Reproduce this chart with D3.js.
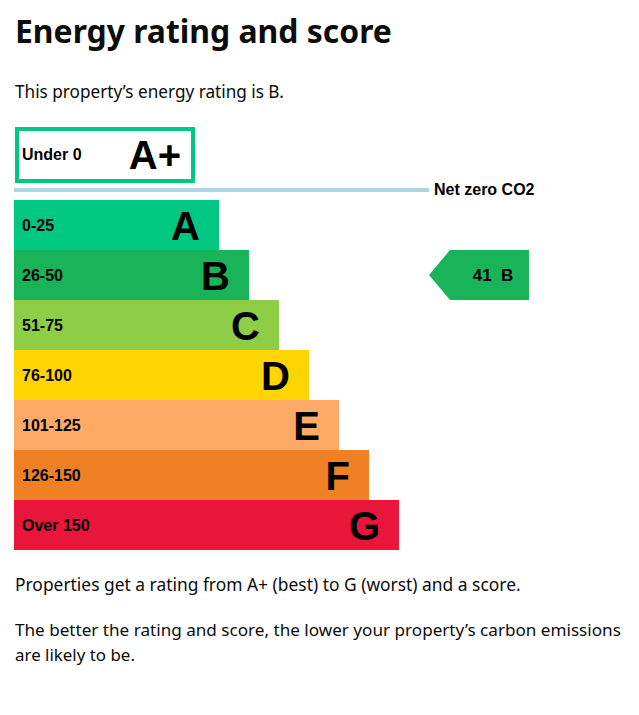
<!DOCTYPE html>
<html>
<head>
<meta charset="utf-8">
<script src="https://cdn.jsdelivr.net/npm/d3@7"></script>
<style>
  body { margin: 0; background: #fff; }
  svg { display: block; }
</style>
</head>
<body>
<div id="chart"></div>
<script>
// rating bands, best to worst
var letters = ["A", "B", "C", "D", "E", "F", "G"];
var ranges = ["0-25", "26-50", "51-75", "76-100", "101-125", "126-150", "Over 150"];
var colours = ["#00c781", "#19b459", "#8dce46", "#ffd500", "#fcaa65", "#ef8023", "#e9153b"];

// the extra band above net zero
var topLetter = "A+";
var topRange = "Under 0";
var topColour = "#00c781";

// this property
var currentScore = 41;
var currentRating = "B";

var title = "Energy rating and score";
var intro = "This property\u2019s energy rating is " + currentRating + ".";
var notes = [
  {text: "Properties get a rating from A+ (best) to G (worst) and a score.", y: 591, w: 506},
  {text: "The better the rating and score, the lower your property\u2019s carbon emissions", y: 636, w: 606},
  {text: "are likely to be.", y: 661, w: 120}
];

var W = 639, H = 715;
var bodyFont = "'Noto Sans', 'Open Sans', sans-serif";
var chartFont = "'Liberation Sans', Arial, sans-serif";

var svg = d3.select("#chart").append("svg")
  .attr("width", W)
  .attr("height", H);

// shrink the font until the text has the width it has in the picture
function fit(sel, w) {
  sel.each(function() {
    var len = this.getComputedTextLength();
    if (len > w) {
      var fs = +d3.select(this).attr("font-size");
      d3.select(this).attr("font-size", (fs * w / len).toFixed(2));
    }
  });
}

svg.append("text")
  .attr("x", 15).attr("y", 43)
  .attr("font-family", bodyFont)
  .attr("font-size", 36)
  .attr("font-weight", 700)
  .attr("fill", "#0b0c0c")
  .text(title)
  .call(fit, 377);

svg.append("text")
  .attr("x", 15).attr("y", 98)
  .attr("font-family", bodyFont)
  .attr("font-size", 19)
  .attr("fill", "#0b0c0c")
  .text(intro)
  .call(fit, 269);

svg.selectAll("text.note")
  .data(notes)
  .enter().append("text")
  .attr("class", "note")
  .attr("x", 15)
  .attr("y", function(d) { return d.y; })
  .attr("font-family", bodyFont)
  .attr("font-size", 19)
  .attr("fill", "#0b0c0c")
  .text(function(d) { return d.text; })
  .each(function(d) { fit(d3.select(this), d.w); });

// scales
var y = d3.scaleBand().domain(letters).range([200, 550]).padding(0);
var xEnd = d3.scaleLinear().domain([0, letters.length - 1]).range([219, 399]);
var x0 = 14;

var g = svg.append("g").attr("font-family", chartFont).attr("font-weight", "bold");

// A+ box
g.append("rect")
  .attr("x", 17).attr("y", 129)
  .attr("width", 176).attr("height", 52)
  .attr("fill", "#fff")
  .attr("stroke", topColour)
  .attr("stroke-width", 4);
g.append("text")
  .attr("x", 22).attr("y", 160)
  .attr("font-size", 16)
  .attr("fill", "#000")
  .text(topRange);
g.append("text")
  .attr("x", 181).attr("y", 169)
  .attr("text-anchor", "end")
  .attr("font-size", 40)
  .attr("fill", "#000")
  .text(topLetter);

// net zero line
g.append("line")
  .attr("x1", x0).attr("x2", 429)
  .attr("y1", 190).attr("y2", 190)
  .attr("stroke", "#a8d8e6")
  .attr("stroke-width", 4);
g.append("text")
  .attr("x", 434).attr("y", 195)
  .attr("font-size", 16)
  .attr("fill", "#000")
  .text("Net zero CO2");

// bands
var rows = g.selectAll("g.band")
  .data(letters)
  .enter().append("g")
  .attr("class", "band");

rows.append("rect")
  .attr("x", x0)
  .attr("y", function(d) { return y(d); })
  .attr("width", function(d, i) { return xEnd(i) - x0; })
  .attr("height", y.bandwidth())
  .attr("fill", function(d, i) { return colours[i]; });

rows.append("text")
  .attr("x", 22)
  .attr("y", function(d) { return y(d) + y.bandwidth() / 2 + 6; })
  .attr("font-size", 16)
  .attr("fill", "#000")
  .text(function(d, i) { return ranges[i]; });

rows.append("text")
  .attr("x", function(d, i) { return xEnd(i) - 19; })
  .attr("y", function(d) { return y(d) + y.bandwidth() / 2 + 14.5; })
  .attr("text-anchor", "end")
  .attr("font-size", 40)
  .attr("fill", "#000")
  .text(function(d) { return d; });

// current rating arrow
var ci = letters.indexOf(currentRating);
var ay = y(currentRating), ah = y.bandwidth();
var ax = 429, aw = 100, tip = 21;
g.append("polygon")
  .attr("points", [
    [ax, ay + ah / 2], [ax + tip, ay], [ax + aw, ay],
    [ax + aw, ay + ah], [ax + tip, ay + ah]
  ].map(function(p) { return p.join(","); }).join(" "))
  .attr("fill", colours[ci]);
g.append("text")
  .attr("x", 493)
  .attr("y", ay + ah / 2 + 6)
  .attr("text-anchor", "middle")
  .attr("font-size", 17)
  .attr("fill", "#000")
  .style("white-space", "pre")
  .text(currentScore + "  " + currentRating);
</script>
</body>
</html>
